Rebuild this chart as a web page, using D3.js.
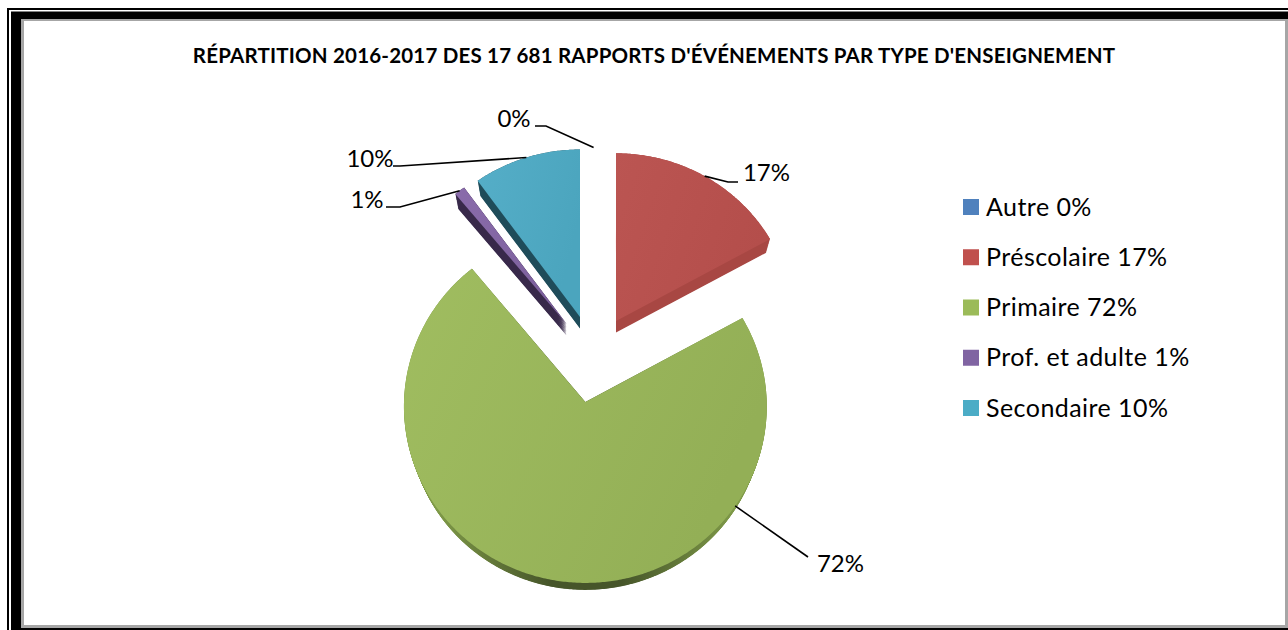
<!DOCTYPE html>
<html lang="fr">
<head>
<meta charset="utf-8">
<title>Répartition des rapports d'événements</title>
<script src="https://cdn.jsdelivr.net/npm/d3@7/dist/d3.min.js"></script>
<style>
  html, body { margin: 0; padding: 0; background: #fff; }
  svg { display: block; }
  text { font-family: Lato, "Open Sans", sans-serif; fill: #000; }
</style>
</head>
<body>
<svg id="chart" width="1288" height="630"></svg>
<script>
// Chart content
const titleText = "RÉPARTITION 2016-2017 DES 17 681 RAPPORTS D'ÉVÉNEMENTS PAR TYPE D'ENSEIGNEMENT";
const categories = ["Autre", "Préscolaire", "Primaire", "Prof. et adulte", "Secondaire"];
const values = [0, 17, 72, 1, 10];

// Colours per category: legend/top surface, lit gradient stops, extruded side
const swatchColors = ["#4f81bd", "#c0504d", "#9bbb59", "#8064a2", "#4bacc6"];
const topLight = ["#4f81bd", "#bb5552", "#a0bd60", "#8a6cab", "#55aec8"];
const topDark = ["#4a78b0", "#b44e4b", "#93af56", "#7c609c", "#4ba5be"];
const sideColors = ["#2c4a6e", "#a84743", "#46552a", "#38294a", "#1f4c5a"];
const sideEdgeColors = ["#2c4a6e", "#a84743", "#7f9a48", "#38294a", "#1f4c5a"];

// Where each value label sits, and the elbow of its leader line
const labelX = [514, 766.5, 840.5, 367, 370];
const labelY = [119, 172.5, 563.5, 199.5, 158.5];
const elbowX = [[546, 535], [728, 738], [808, 808], [400, 386], [400, 393]];
const elbowY = [[126, 126], [182, 182], [557, 557], [207, 207], [166, 166]];
// Angle at which each leader touches its slice (null = middle of the slice)
const leaderAngle = [null, null, 2.19, null, null];

// Pie geometry
const cx = 593.6, cy = 358.8, explode = 44, depth = 11.5, shrink = 0.025;
// Slices further back are drawn slightly smaller
const radiusX = y => 178 + (y - 322) * 0.042;
const radiusY = y => 172 + (y - 322) * 0.056;
// Foreshortening of the disc: the far edge of each slice narrows a little
const perspective = 0.025;

const svg = d3.select("#chart");
const defs = svg.append("defs");

// Frame: thin outer rule, white gap, thick band, grey inner edge
svg.append("rect").attr("x", 7).attr("y", 8).attr("width", 1281).attr("height", 622).attr("fill", "#000");
svg.append("rect").attr("x", 9).attr("y", 10).attr("width", 1279).attr("height", 1.5).attr("fill", "#fff");
svg.append("rect").attr("x", 9).attr("y", 10).attr("width", 2).attr("height", 620).attr("fill", "#fff");
svg.append("rect").attr("x", 21).attr("y", 19).attr("width", 1267).attr("height", 609).attr("fill", "#a6a6a6");
svg.append("rect").attr("x", 24).attr("y", 21).attr("width", 1261).attr("height", 604).attr("fill", "#fff");

svg.append("text")
  .attr("x", 654).attr("y", 63)
  .attr("text-anchor", "middle")
  .attr("font-size", 20.5).attr("font-weight", 700)
  .attr("letter-spacing", 0.2)
  .text(titleText);

const pie = d3.pie().value(d => d).sort(null);
const arcs = pie(values);

// Point on a slice's rim, relative to its apex, for a clockwise angle from north
const rim = (s, ang) => {
  const k = 1 - perspective * Math.cos(ang);
  return [s.rx * Math.sin(ang) * k, -s.ry * Math.cos(ang) * k];
};
const outline = d3.line().curve(d3.curveLinearClosed);
const slicePath = s => {
  const angles = d3.range(s.a.startAngle, s.a.endAngle, 0.01).concat(s.a.endAngle);
  return outline([[0, 0]].concat(angles.map(t => rim(s, t))));
};

const slices = arcs.map((a, i) => {
  const mid = (a.startAngle + a.endAngle) / 2;
  const ax = cx + explode * Math.sin(mid);
  const ay = cy - explode * Math.cos(mid);
  return { a, i, mid, ax, ay, rx: radiusX(ay), ry: radiusY(ay) };
});

// Lit gradient on the top faces; the sides darken toward the front of the pie
slices.forEach(s => {
  const g = defs.append("linearGradient").attr("id", "top" + s.i)
    .attr("x1", 0).attr("y1", 0).attr("x2", 1).attr("y2", 0.4);
  g.append("stop").attr("offset", 0).attr("stop-color", topLight[s.i]);
  g.append("stop").attr("offset", 1).attr("stop-color", topDark[s.i]);
  const h = defs.append("linearGradient").attr("id", "side" + s.i)
    .attr("x1", 0).attr("y1", 0).attr("x2", 1).attr("y2", 0);
  h.append("stop").attr("offset", 0.08).attr("stop-color", sideEdgeColors[s.i]);
  h.append("stop").attr("offset", 0.4).attr("stop-color", sideColors[s.i]);
  h.append("stop").attr("offset", 0.6).attr("stop-color", sideColors[s.i]);
  h.append("stop").attr("offset", 0.92).attr("stop-color", sideEdgeColors[s.i]);
});

const sweep = d3.range(0, 1.0001, 0.05);

const pieGroup = svg.append("g");
slices.filter(s => s.a.value > 0).forEach(s => {
  const g = pieGroup.append("g");
  const d = slicePath(s);
  // Extruded side: a stack of shrinking copies below the top face
  g.selectAll("path.side").data(sweep.slice().reverse()).join("path")
    .attr("class", "side")
    .attr("d", d)
    .attr("fill", `url(#side${s.i})`)
    .attr("transform", k => `translate(${s.ax},${s.ay + k * depth}) scale(${1 - k * shrink})`);
  g.append("path")
    .attr("d", d)
    .attr("fill", `url(#top${s.i})`)
    .attr("transform", `translate(${s.ax},${s.ay})`);
});

// Value labels with leader lines
const line = d3.line();
slices.forEach(s => {
  const ang = leaderAngle[s.i] === null ? s.mid : leaderAngle[s.i];
  const p = rim(s, ang);
  const start = [s.ax + p[0], s.ay + p[1]];
  const pts = [start].concat(elbowX[s.i].map((x, k) => [x, elbowY[s.i][k]]));
  svg.append("path")
    .attr("d", line(pts))
    .attr("fill", "none")
    .attr("stroke", "#000")
    .attr("stroke-width", 1.6);
  svg.append("text")
    .attr("x", labelX[s.i]).attr("y", labelY[s.i])
    .attr("dy", "0.35em")
    .attr("text-anchor", "middle")
    .attr("font-size", 24)
    .text(values[s.i] + "%");
});

// Legend
const legendY = d3.scalePoint().domain(categories).range([207, 408]);
const legend = svg.append("g").selectAll("g").data(categories).join("g")
  .attr("transform", d => `translate(963,${legendY(d)})`);
legend.append("rect")
  .attr("x", 0).attr("y", -8).attr("width", 16).attr("height", 16)
  .attr("fill", (d, i) => swatchColors[i]);
legend.append("text")
  .attr("x", 23).attr("y", 8.5)
  .attr("font-size", 25)
  .attr("letter-spacing", 0.45)
  .text((d, i) => `${d} ${values[i]}%`);
</script>
</body>
</html>
